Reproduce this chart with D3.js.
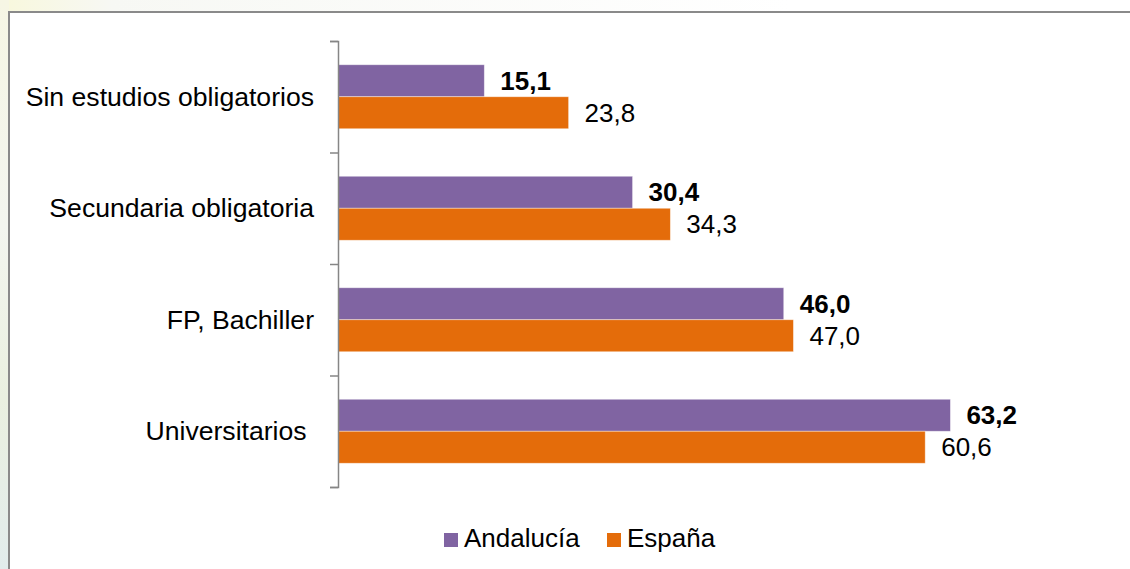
<!DOCTYPE html>
<html>
<head>
<meta charset="utf-8">
<script src="https://cdn.jsdelivr.net/npm/d3@7"></script>
<style>
  html, body { margin: 0; padding: 0; background: #fff; overflow: hidden; }
  svg { display: block; font-family: "Liberation Sans", Arial, sans-serif; }
</style>
</head>
<body>
<svg id="chart" width="1130" height="569"></svg>
<script>
const categories = ["Sin estudios obligatorios", "Secundaria obligatoria", "FP, Bachiller", "Universitarios "];
const seriesNames = ["Andalucía", "España"];
const andalucia = [15.1, 30.4, 46.0, 63.2];
const espana = [23.8, 34.3, 47.0, 60.6];
const colors = ["#8064A2", "#E46C0A"];

const fmt = v => d3.format(".1f")(v).replace(".", ",");

const svg = d3.select("#chart");
const W = 1130, H = 569;
const FS = 26;

// background
const defs = svg.append("defs");
const g1 = defs.append("linearGradient").attr("id", "bg").attr("x1", 0).attr("y1", 0).attr("x2", 0).attr("y2", 1);
g1.append("stop").attr("offset", "0%").attr("stop-color", "#f6f6e4");
g1.append("stop").attr("offset", "40%").attr("stop-color", "#f3f5ef");
g1.append("stop").attr("offset", "70%").attr("stop-color", "#eaf0e0");
g1.append("stop").attr("offset", "100%").attr("stop-color", "#e2ecec");
const g2 = defs.append("linearGradient").attr("id", "bgtop").attr("x1", 0).attr("y1", 0).attr("x2", 1).attr("y2", 0);
g2.append("stop").attr("offset", "0%").attr("stop-color", "#f8f8dc");
g2.append("stop").attr("offset", "10%").attr("stop-color", "#f7f8f4");
g2.append("stop").attr("offset", "70%").attr("stop-color", "#ffffff");
svg.append("rect").attr("x", 0).attr("y", 0).attr("width", W).attr("height", H).attr("fill", "#fff");
svg.append("rect").attr("x", 0).attr("y", 0).attr("width", W).attr("height", 12).attr("fill", "url(#bgtop)");
svg.append("rect").attr("x", 0).attr("y", 0).attr("width", 9).attr("height", H).attr("fill", "url(#bg)");

// chart box (right and bottom edges run off the page)
svg.append("path")
  .attr("d", `M9,${H + 5}V12H${W + 5}`)
  .attr("fill", "none").attr("stroke", "#8a8a8a").attr("stroke-width", 2);

const x0 = 338;
const x = d3.scaleLinear().domain([0, 70]).range([x0, x0 + 678.3]);
const y = d3.scaleBand().domain(categories).range([41, 487]).paddingInner(0).paddingOuter(0);
const sub = d3.scaleBand().domain(seriesNames).range([0, 64]);
const barOffset = (y.bandwidth() - 64) / 2;

const data = categories.map((c, i) => ({ cat: c, values: [andalucia[i], espana[i]] }));

// bars
const groups = svg.append("g").selectAll("g").data(data).join("g")
  .attr("transform", d => `translate(0,${y(d.cat) + barOffset})`);

groups.selectAll("rect").data(d => d.values.map((v, j) => ({ v, s: seriesNames[j], j })))
  .join("rect")
  .attr("x", x(0))
  .attr("y", d => sub(d.s))
  .attr("width", d => x(d.v) - x(0))
  .attr("height", sub.bandwidth())
  .attr("fill", d => colors[d.j])
  .attr("stroke", "#ffffff").attr("stroke-opacity", 0.5).attr("stroke-width", 0.8);

groups.selectAll("text").data(d => d.values.map((v, j) => ({ v, s: seriesNames[j], j })))
  .join("text")
  .attr("x", d => x(d.v) + 16)
  .attr("y", d => sub(d.s) + sub.bandwidth() / 2 + 9)
  .attr("font-size", FS)
  .attr("font-weight", d => d.j === 0 ? "bold" : "normal")
  .attr("fill", "#000")
  .text(d => fmt(d.v));

// axis with ticks at band boundaries
const yIdx = d3.scaleLinear().domain([0, categories.length]).range([41, 487]);
const axisG = svg.append("g").attr("transform", `translate(${x0},0)`)
  .call(d3.axisLeft(yIdx).ticks(categories.length).tickSize(8).tickSizeOuter(8).tickFormat(""));
axisG.selectAll("path, line").attr("stroke", "#868686").attr("stroke-width", 1.5);

// category labels
svg.append("g").selectAll("text").data(categories).join("text")
  .attr("x", 314)
  .attr("y", d => y(d) + y.bandwidth() / 2 + 9)
  .attr("text-anchor", "end")
  .attr("font-size", 26.6)
  .attr("fill", "#000")
  .style("white-space", "pre")
  .text(d => d);

// legend
const legendItems = [{ name: seriesNames[0], x: 444 }, { name: seriesNames[1], x: 607 }];
const lg = svg.append("g").selectAll("g").data(legendItems).join("g")
  .attr("transform", d => `translate(${d.x},533)`);
lg.append("rect").attr("width", 14).attr("height", 14).attr("fill", (d, i) => colors[i]);
lg.append("text").attr("x", 20).attr("y", 14).attr("font-size", FS).attr("fill", "#000").text(d => d.name);
</script>
</body>
</html>
